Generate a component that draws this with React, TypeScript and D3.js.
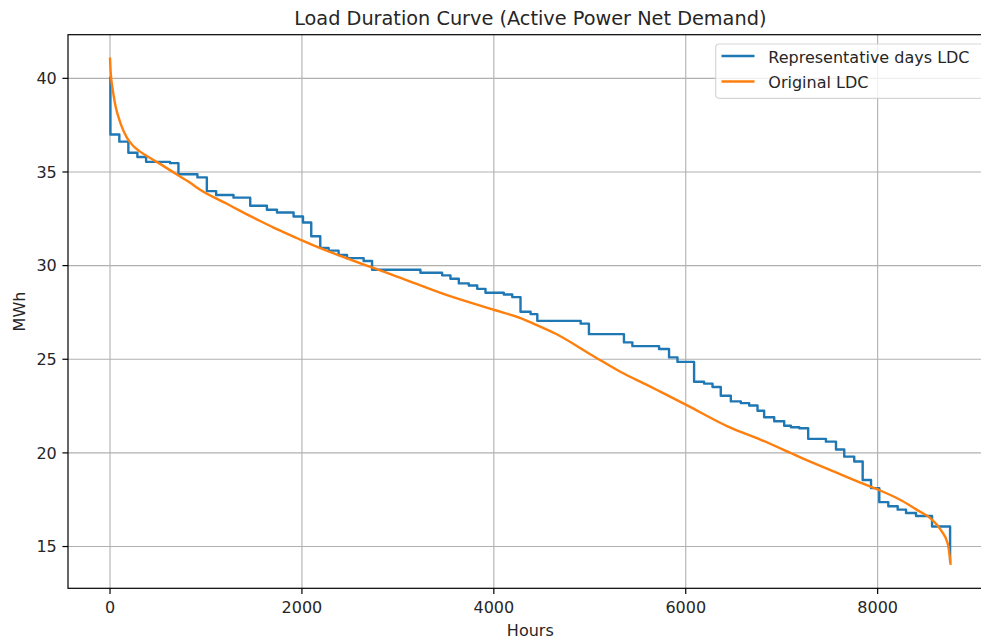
import * as React from 'react';
import { useEffect, useRef } from 'react';
import * as d3 from 'd3';

// Representative days LDC (step curve): start hour of each step and its value
const repHours = [
  0, 4, 97, 191, 285, 376, 626, 713, 911, 1009, 1106, 1287, 1461, 1635, 1740, 1913,
  2011, 2097, 2191, 2278, 2382, 2470, 2643, 2731, 3235, 3461, 3548, 3635, 3739, 3827,
  3913, 4104, 4192, 4278, 4383, 4453, 4905, 4991, 5356, 5444, 5722, 5826, 5914, 6087,
  6191, 6279, 6365, 6470, 6574, 6661, 6748, 6817, 6922, 7026, 7096, 7183, 7276, 7461,
  7566, 7652, 7756, 7844, 7931, 8017, 8111, 8209, 8296, 8400, 8567, 8755, 8760,
];
const repValues = [
  40.1, 37.0, 36.62, 36.03, 35.8, 35.54, 35.47, 34.88, 34.71, 33.98, 33.77, 33.63, 33.2, 32.98, 32.84, 32.62,
  32.3, 31.57, 30.95, 30.8, 30.57, 30.4, 30.25, 29.78, 29.62, 29.48, 29.3, 29.05, 28.94, 28.76,
  28.55, 28.46, 28.32, 27.54, 27.41, 27.05, 26.9, 26.34, 25.9, 25.7, 25.55, 25.1, 24.86, 23.8,
  23.7, 23.52, 23.05, 22.75, 22.66, 22.53, 22.25, 21.9, 21.69, 21.45, 21.37, 21.32, 20.75, 20.6,
  20.18, 19.8, 19.54, 18.55, 18.12, 17.37, 17.15, 16.97, 16.79, 16.63, 16.07, 14.2, 14.2,
];

// Original LDC (sorted hourly net demand)
const origHours = [
  0, 5, 12, 25, 40, 60, 90, 120, 174, 240, 310, 400, 500, 680, 835, 939, 1218, 1357, 1565,
  1704, 1913, 2007, 2191, 2330, 2713, 2922, 3165, 3513, 4007, 4278, 4383, 4650, 5044, 5322,
  5600, 5739, 6000, 6435, 6783, 7100, 7200, 7548, 7756, 8005, 8244, 8418, 8557, 8661, 8731, 8760,
];
const origValues = [
  41.05, 40.5, 40.0, 39.5, 39.0, 38.45, 37.9, 37.45, 36.85, 36.4, 36.1, 35.8, 35.5, 34.92, 34.42, 34.05, 33.3, 32.92, 32.38,
  32.03, 31.55, 31.33, 30.93, 30.66, 29.93, 29.55, 29.08, 28.42, 27.63, 27.2, 26.97, 26.35, 25.15, 24.32,
  23.62, 23.26, 22.58, 21.42, 20.7, 19.98, 19.75, 19.0, 18.55, 18.04, 17.47, 16.93, 16.48, 15.86, 15.15, 14.08,
];

const xTicks = [0, 2000, 4000, 6000, 8000];
const yTicks = [15, 20, 25, 30, 35, 40];
const seriesNames = ['Representative days LDC', 'Original LDC'];
const seriesColors = ['#1f77b4', '#ff7f0e'];

const W = 981;
const H = 642;
const FONT = '"DejaVu Sans", Verdana, sans-serif';

const App: React.FC = () => {
  const svgRef = useRef<SVGSVGElement>(null);

  useEffect(() => {
    if (!svgRef.current) return;
    const svg = d3.select(svgRef.current);
    svg.selectAll('*').remove();

    const ax = { left: 68, top: 34.7, right: 992.6, bottom: 588.3 };

    const x = d3.scaleLinear().domain([-438, 9198]).range([ax.left, ax.right]);
    const y = d3.scaleLinear().domain([12.77, 42.33]).range([ax.bottom, ax.top]);

    // grid
    const grid = svg.append('g');
    grid.selectAll('.gx').data(xTicks).enter().append('line')
      .attr('x1', d => x(d)).attr('x2', d => x(d))
      .attr('y1', ax.top).attr('y2', ax.bottom)
      .attr('stroke', '#b0b0b0').attr('stroke-width', 1.1);
    grid.selectAll('.gy').data(yTicks).enter().append('line')
      .attr('x1', ax.left).attr('x2', ax.right)
      .attr('y1', d => y(d)).attr('y2', d => y(d))
      .attr('stroke', '#b0b0b0').attr('stroke-width', 1.1);

    // series
    const repData = repHours.map((h, i) => [h, repValues[i]] as [number, number]);
    const origData = origHours.map((h, i) => [h, origValues[i]] as [number, number]);

    const stepLine = d3.line<[number, number]>()
      .x(d => x(d[0])).y(d => y(d[1]))
      .curve(d3.curveStepAfter);
    const smoothLine = d3.line<[number, number]>()
      .x(d => x(d[0])).y(d => y(d[1]))
      .curve(d3.curveMonotoneX);

    svg.append('path').datum(repData)
      .attr('fill', 'none').attr('stroke', seriesColors[0])
      .attr('stroke-width', 2.4).attr('stroke-linejoin', 'round')
      .attr('d', stepLine);
    svg.append('path').datum(origData)
      .attr('fill', 'none').attr('stroke', seriesColors[1])
      .attr('stroke-width', 2.4).attr('stroke-linejoin', 'round').attr('stroke-linecap', 'square')
      .attr('d', smoothLine);

    // frame
    svg.append('rect')
      .attr('x', ax.left).attr('y', ax.top)
      .attr('width', ax.right - ax.left).attr('height', ax.bottom - ax.top)
      .attr('fill', 'none').attr('stroke', '#000').attr('stroke-width', 1.2);

    // x ticks
    const xt = svg.append('g');
    xt.selectAll('line').data(xTicks).enter().append('line')
      .attr('x1', d => x(d)).attr('x2', d => x(d))
      .attr('y1', ax.bottom).attr('y2', ax.bottom + 5.6)
      .attr('stroke', '#000').attr('stroke-width', 1.2);
    xt.selectAll('text').data(xTicks).enter().append('text')
      .attr('x', d => x(d)).attr('y', 613)
      .attr('text-anchor', 'middle')
      .attr('font-family', FONT).attr('font-size', 16).attr('fill', '#262626')
      .text(d => String(d));

    // y ticks
    const yt = svg.append('g');
    yt.selectAll('line').data(yTicks).enter().append('line')
      .attr('x1', ax.left - 5.6).attr('x2', ax.left)
      .attr('y1', d => y(d)).attr('y2', d => y(d))
      .attr('stroke', '#000').attr('stroke-width', 1.2);
    yt.selectAll('text').data(yTicks).enter().append('text')
      .attr('x', ax.left - 11.2).attr('y', d => y(d) + 5.8)
      .attr('text-anchor', 'end')
      .attr('font-family', FONT).attr('font-size', 16).attr('fill', '#262626')
      .text(d => String(d));

    // labels
    svg.append('text')
      .attr('x', (ax.left + ax.right) / 2).attr('y', 25)
      .attr('text-anchor', 'middle')
      .attr('font-family', FONT).attr('font-size', 19.3).attr('fill', '#262626')
      .text('Load Duration Curve (Active Power Net Demand)');
    svg.append('text')
      .attr('x', (ax.left + ax.right) / 2).attr('y', 636)
      .attr('text-anchor', 'middle')
      .attr('font-family', FONT).attr('font-size', 16).attr('fill', '#262626')
      .text('Hours');
    svg.append('text')
      .attr('transform', `translate(25,${(ax.top + ax.bottom) / 2}) rotate(-90)`)
      .attr('text-anchor', 'middle')
      .attr('font-family', FONT).attr('font-size', 16).attr('fill', '#262626')
      .text('MWh');

    // legend
    const lg = svg.append('g');
    lg.append('rect')
      .attr('x', 715.7).attr('y', 44)
      .attr('width', 268).attr('height', 54.3)
      .attr('rx', 3.5)
      .attr('fill', 'rgba(255,255,255,0.8)')
      .attr('stroke', 'rgba(204,204,204,0.8)').attr('stroke-width', 1.2);
    seriesNames.forEach((name, i) => {
      const ly = 56 + i * 25.5;
      lg.append('line')
        .attr('x1', 721.5).attr('x2', 754.5)
        .attr('y1', ly).attr('y2', ly)
        .attr('stroke', seriesColors[i]).attr('stroke-width', 2.4);
      lg.append('text')
        .attr('x', 768.3).attr('y', ly + 6.8)
        .attr('font-family', FONT).attr('font-size', 16).attr('fill', '#262626')
        .text(name);
    });
  }, []);

  return (
    <svg
      ref={svgRef}
      width={W}
      height={H}
      viewBox={`0 0 ${W} ${H}`}
      style={{ position: 'absolute', left: 0, top: 0, background: '#fff', overflow: 'hidden' }}
    />
  );
};

export default App;
